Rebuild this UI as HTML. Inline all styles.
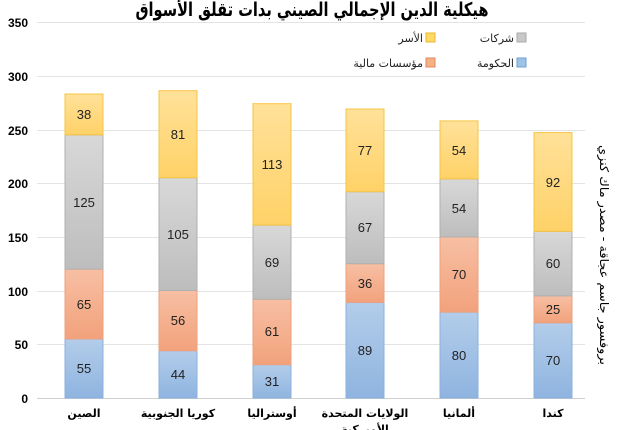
<!DOCTYPE html>
<html><head><meta charset="utf-8"><style>
body{margin:0;background:#fff;}
svg{display:block;font-family:"Liberation Sans","Noto Sans CJK SC",sans-serif;}
.t{font-size:12px;font-weight:bold;fill:#000;text-anchor:end}
.v{font-size:13px;fill:#222;text-anchor:middle}
.c{font-size:11px;font-weight:bold;fill:#000;text-anchor:middle;font-family:"DejaVu Sans",sans-serif}
.l{font-size:11px;fill:#222;text-anchor:end;font-family:"DejaVu Sans",sans-serif}
</style></head><body>
<svg width="626" height="430" viewBox="0 0 626 430">
<defs>
<linearGradient id="gb" x1="0" y1="0" x2="0" y2="1"><stop offset="0" stop-color="#b3cdea"/><stop offset="1" stop-color="#8fb4e0"/></linearGradient>
<linearGradient id="go" x1="0" y1="0" x2="0" y2="1"><stop offset="0" stop-color="#f7bfa3"/><stop offset="1" stop-color="#f2a27c"/></linearGradient>
<linearGradient id="gg" x1="0" y1="0" x2="0" y2="1"><stop offset="0" stop-color="#d8d8d8"/><stop offset="1" stop-color="#bdbdbd"/></linearGradient>
<linearGradient id="gy" x1="0" y1="0" x2="0" y2="1"><stop offset="0" stop-color="#ffe199"/><stop offset="1" stop-color="#ffd268"/></linearGradient>
</defs>
<text x="312" y="16" font-size="19" font-weight="bold" text-anchor="middle" textLength="353" lengthAdjust="spacingAndGlyphs" font-family="DejaVu Sans,sans-serif">هيكلية الدين الإجمالي الصيني بدات تقلق الأسواق</text>
<g stroke="#e3e3e3" stroke-width="1">
<line x1="37" y1="22.5" x2="585" y2="22.5"/><line x1="37" y1="76.5" x2="585" y2="76.5"/><line x1="37" y1="130.5" x2="585" y2="130.5"/><line x1="37" y1="183.5" x2="585" y2="183.5"/><line x1="37" y1="237.5" x2="585" y2="237.5"/><line x1="37" y1="291.5" x2="585" y2="291.5"/><line x1="37" y1="344.5" x2="585" y2="344.5"/>
</g>
<line x1="37" y1="398.5" x2="585" y2="398.5" stroke="#d0d0d0"/>
<g>
<text class="t" x="28" y="27">350</text><text class="t" x="28" y="81">300</text><text class="t" x="28" y="135">250</text><text class="t" x="28" y="188">200</text><text class="t" x="28" y="242">150</text><text class="t" x="28" y="296">100</text><text class="t" x="28" y="349">50</text><text class="t" x="28" y="403">0</text>
</g>
<rect x="517" y="33" width="9" height="9" fill="#c8c8c8" stroke="#aaa"/><text class="l" x="514" y="42">شركات</text>
<rect x="426" y="33" width="9" height="9" fill="#ffd966" stroke="#e8b830"/><text class="l" x="423" y="42">الأسر</text>
<rect x="517" y="58" width="9" height="9" fill="#9dc3e6" stroke="#6f9fd0"/><text class="l" x="514" y="67">الحكومة</text>
<rect x="426" y="58" width="9" height="9" fill="#f4b183" stroke="#e08a60"/><text class="l" x="423" y="67">مؤسسات مالية</text>
<g stroke-width="1">
<rect x="65" y="338.9" width="38" height="59.1" fill="url(#gb)" stroke="#8cb0dc"/>
<rect x="65" y="269.1" width="38" height="69.8" fill="url(#go)" stroke="#eea07c"/>
<rect x="65" y="134.8" width="38" height="134.3" fill="url(#gg)" stroke="#b0b0b0"/>
<rect x="65" y="94.0" width="38" height="40.8" fill="url(#gy)" stroke="#f5c443"/>
<rect x="159" y="350.7" width="38" height="47.3" fill="url(#gb)" stroke="#8cb0dc"/>
<rect x="159" y="290.5" width="38" height="60.2" fill="url(#go)" stroke="#eea07c"/>
<rect x="159" y="177.7" width="38" height="112.8" fill="url(#gg)" stroke="#b0b0b0"/>
<rect x="159" y="90.7" width="38" height="87.0" fill="url(#gy)" stroke="#f5c443"/>
<rect x="253" y="364.7" width="38" height="33.3" fill="url(#gb)" stroke="#8cb0dc"/>
<rect x="253" y="299.2" width="38" height="65.5" fill="url(#go)" stroke="#eea07c"/>
<rect x="253" y="225.1" width="38" height="74.1" fill="url(#gg)" stroke="#b0b0b0"/>
<rect x="253" y="103.7" width="38" height="121.4" fill="url(#gy)" stroke="#f5c443"/>
<rect x="346" y="302.4" width="38" height="95.6" fill="url(#gb)" stroke="#8cb0dc"/>
<rect x="346" y="263.7" width="38" height="38.7" fill="url(#go)" stroke="#eea07c"/>
<rect x="346" y="191.7" width="38" height="72.0" fill="url(#gg)" stroke="#b0b0b0"/>
<rect x="346" y="109.0" width="38" height="82.7" fill="url(#gy)" stroke="#f5c443"/>
<rect x="440" y="312.1" width="38" height="85.9" fill="url(#gb)" stroke="#8cb0dc"/>
<rect x="440" y="236.9" width="38" height="75.2" fill="url(#go)" stroke="#eea07c"/>
<rect x="440" y="178.9" width="38" height="58.0" fill="url(#gg)" stroke="#b0b0b0"/>
<rect x="440" y="120.9" width="38" height="58.0" fill="url(#gy)" stroke="#f5c443"/>
<rect x="534" y="322.8" width="38" height="75.2" fill="url(#gb)" stroke="#8cb0dc"/>
<rect x="534" y="295.9" width="38" height="26.9" fill="url(#go)" stroke="#eea07c"/>
<rect x="534" y="231.4" width="38" height="64.5" fill="url(#gg)" stroke="#b0b0b0"/>
<rect x="534" y="132.6" width="38" height="98.8" fill="url(#gy)" stroke="#f5c443"/>
</g>
<g>
<text class="v" x="84" y="373">55</text><text class="v" x="84" y="309">65</text><text class="v" x="84" y="207">125</text><text class="v" x="84" y="119">38</text>
<text class="v" x="178" y="379">44</text><text class="v" x="178" y="325">56</text><text class="v" x="178" y="239">105</text><text class="v" x="178" y="139">81</text>
<text class="v" x="272" y="386">31</text><text class="v" x="272" y="336">61</text><text class="v" x="272" y="267">69</text><text class="v" x="272" y="169">113</text>
<text class="v" x="365" y="355">89</text><text class="v" x="365" y="288">36</text><text class="v" x="365" y="232">67</text><text class="v" x="365" y="155">77</text>
<text class="v" x="459" y="360">80</text><text class="v" x="459" y="279">70</text><text class="v" x="459" y="213">54</text><text class="v" x="459" y="155">54</text>
<text class="v" x="553" y="365">70</text><text class="v" x="553" y="314">25</text><text class="v" x="553" y="268">60</text><text class="v" x="553" y="187">92</text>
</g>
<g>
<text class="c" x="84" y="417">الصين</text>
<text class="c" x="178" y="417">كوريا الجنوبية</text>
<text class="c" x="272" y="417">أوستراليا</text>
<text class="c" x="365" y="417">الولايات المتحدة</text>
<text class="c" x="365" y="433">الأميركية</text>
<text class="c" x="459" y="417">ألمانيا</text>
<text class="c" x="553" y="417">كندا</text>
</g>
<text transform="translate(600,255) rotate(90)" font-size="12" text-anchor="middle" textLength="220" lengthAdjust="spacingAndGlyphs" font-family="DejaVu Sans,sans-serif">بروفسور جاسم عجاقة - مصدر ماك كنزي</text>
</svg>
</body></html>
